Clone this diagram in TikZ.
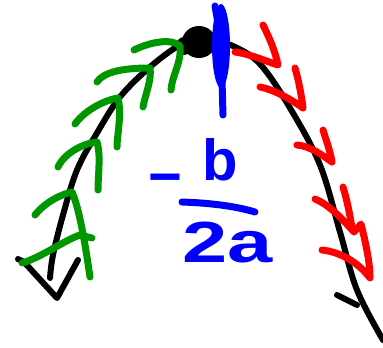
\documentclass[tikz,border=0pt]{standalone}
\usepackage{fontspec}
\setmainfont{Liberation Sans}
\begin{document}
\begin{tikzpicture}[x=1pt,y=-1pt,
  pen/.style={line width=#1,line cap=round,line join=round},
  blk/.style={pen=6pt,black},
  grn/.style={pen=7pt,color={rgb,255:red,0;green,150;blue,0}},
  rd/.style={pen=7pt,color={rgb,255:red,255;green,0;blue,0}},
  blu/.style={pen=7pt,color={rgb,255:red,0;green,0;blue,255}},
  handtext/.style={font=\fontsize{58}{58}\selectfont\bfseries,text={rgb,255:red,0;green,0;blue,255},inner sep=0pt,anchor=base}]
\useasboundingbox (0,0) rectangle (383,348);
% black parabola
\draw[blk] plot[smooth,tension=0.6] coordinates {(50,278) (53,255) (63,215) (77,170) (97,133) (120,97) (150,67) (180,45) (200,40)};
\draw[blk] plot[smooth,tension=0.6] coordinates {(215,42) (233,46) (260,64) (290,108) (320,165) (340,232) (357,290) (383,340)};
\draw[blk] (18,259) -- (24,262) -- (57,298) -- (78,260);
\draw[blk] (337,295) -- (357,305);
% vertex blob
\fill[black] (199,42) ellipse[x radius=17,y radius=16];
\fill[black] (184,46) ellipse[x radius=8,y radius=9];
% blue vertical mark
\fill[blue] (221,46) ellipse[x radius=9,y radius=42];
\draw[blu] (215,6) -- (222,46);
\draw[blu] (222,80) -- (223,115);
% green arrows
\draw[grn] (134,50) .. controls (150,42) and (172,38) .. (180,46) .. controls (182,62) and (172,75) .. (171,90);
\draw[grn] (97,82) .. controls (105,70) and (130,68) .. (150,68) .. controls (152,80) and (145,95) .. (143,107);
\draw[grn] (75,124) .. controls (85,110) and (105,100) .. (118,98) .. controls (122,115) and (117,135) .. (117,147);
\draw[grn] (58,167) .. controls (65,152) and (85,143) .. (97,142) .. controls (101,155) and (98,175) .. (98,190);
\draw[grn] (35,215) .. controls (45,202) and (62,194) .. (72,192) .. controls (80,210) and (86,250) .. (90,277);
\draw[grn] (22,263) .. controls (40,258) and (65,240) .. (80,235) -- (92,238);
% red arrows
\draw[rd] (235,52) .. controls (250,54) and (268,62) .. (278,65) .. controls (275,50) and (268,35) .. (263,25);
\draw[rd] (260,87) .. controls (275,90) and (292,100) .. (303,108) .. controls (301,92) and (298,78) .. (295,68);
\draw[rd] (297,145) .. controls (310,146) and (322,155) .. (332,162) .. controls (330,150) and (326,140) .. (323,130);
\draw[rd] (315,199) .. controls (330,205) and (345,222) .. (354,232) -- (361,224) .. controls (365,240) and (370,262) .. (370,277);
\draw[rd] (343,187) .. controls (347,200) and (350,215) .. (352,228);
\draw[rd] (322,250) .. controls (340,252) and (358,262) .. (370,278);
% -b/2a
\node[handtext] (minus) at (165,196) {−};
\node[handtext] (bb) at (220,180) {b};
\node[handtext,xscale=1.4] (twoa) at (228,262) {2a};
\draw[blu] (182,202) .. controls (210,203) and (235,206) .. (255,212);
\end{tikzpicture}
\end{document}
